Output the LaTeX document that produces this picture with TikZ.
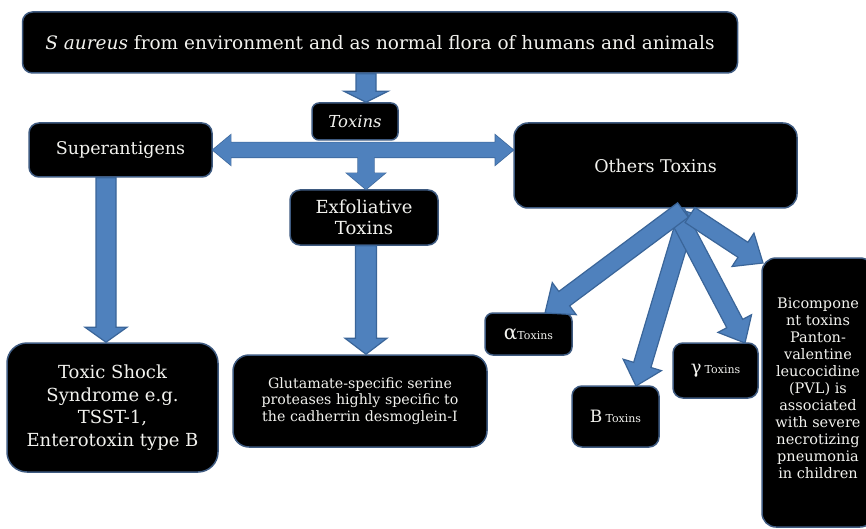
\documentclass[tikz,border=0pt]{standalone}
\usepackage{fontspec}
\setmainfont{DejaVu Serif}
\usetikzlibrary{calc}
\definecolor{arrowfill}{HTML}{4F81BD}
\definecolor{arrowline}{HTML}{3A6599}
\definecolor{boxline}{HTML}{3E5A80}
\definecolor{boxtext}{HTML}{F2F2EE}
\newcommand\blockarrow[6]{%
  \coordinate (ba-h) at ($(#3)!#6!(#2)$);
  \path[#1] ($(#2)!#4!90:(#3)$) -- ($(ba-h)!#4!-90:(#2)$) -- ($(ba-h)!#5!-90:(#2)$) -- (#3)
    -- ($(ba-h)!#5!90:(#2)$) -- ($(ba-h)!#4!90:(#2)$) -- ($(#2)!#4!-90:(#3)$) -- cycle;
}
\newcommand\dblarrow[6]{%
  \coordinate (da-a) at ($(#2)!#6!(#3)$);
  \coordinate (da-b) at ($(#3)!#6!(#2)$);
  \path[#1] (#2) -- ($(da-a)!#5!90:(#3)$) -- ($(da-a)!#4!90:(#3)$) -- ($(da-b)!#4!-90:(#2)$)
    -- ($(da-b)!#5!-90:(#2)$) -- (#3) -- ($(da-b)!#5!90:(#2)$) -- ($(da-b)!#4!90:(#2)$)
    -- ($(da-a)!#4!-90:(#3)$) -- ($(da-a)!#5!-90:(#3)$) -- cycle;
}
\tikzset{
  box/.style={draw=boxline, line width=1.5pt, fill=black, rounded corners=10pt,
    text=boxtext, align=center, inner sep=0pt},
  arrowout/.style={draw=arrowline, line width=1.4pt, line join=miter},
  arrowin/.style={fill=arrowfill},
  arrowboth/.style={fill=arrowfill, draw=arrowline, line width=1.2pt, line join=miter},
}
\begin{document}
\begin{tikzpicture}[x=1pt,y=-1pt]
\useasboundingbox[fill=white] (0,0) rectangle (866,529);
% nodes
\node[box, minimum width=715pt, minimum height=61pt, font=\fontsize{18.5}{22}\selectfont] (top) at (380,42.5)
  {\textit{S aureus} from environment and as normal flora of humans and animals};
\node[box, minimum width=86pt, minimum height=37pt, rounded corners=7pt, font=\fontsize{16.5}{20}\selectfont] (toxins) at (355,121.5)
  {\textit{Toxins}};
\node[box, minimum width=183pt, minimum height=54pt, font=\fontsize{17.5}{21}\selectfont] (super) at (120.5,150)
  {Superantigens};
\node[box, minimum width=283pt, minimum height=85pt, rounded corners=14pt, font=\fontsize{17.5}{21}\selectfont] (others) at (655.5,165.5)
  {Others Toxins};
\node[box, minimum width=148pt, minimum height=55pt, font=\fontsize{18}{21}\selectfont] (exfol) at (364,217.5)
  {Exfoliative\\Toxins};
\node[box, minimum width=211pt, minimum height=129pt, rounded corners=20pt, font=\fontsize{18}{22.5}\selectfont] (tss) at (112.5,407.5)
  {Toxic Shock\\Syndrome e.g.\\TSST-1,\\Enterotoxin type B};
\node[box, minimum width=254pt, minimum height=92pt, rounded corners=16pt, font=\fontsize{14.2}{16.8}\selectfont] (glut) at (360,401)
  {Glutamate-specific serine\\proteases highly specific to\\the cadherrin desmoglein-I};
\node[box, minimum width=87pt, minimum height=42pt, rounded corners=8pt] (alpha) at (528.5,334)
  {{\fontsize{20}{20}\selectfont α}{\fontsize{11}{11}\selectfont Toxins}};
\node[box, minimum width=87pt, minimum height=61pt, rounded corners=10pt] (beta) at (615.5,416.5)
  {{\fontsize{17}{17}\selectfont B} {\fontsize{11}{11}\selectfont Toxins}};
\node[box, minimum width=85pt, minimum height=55pt, rounded corners=10pt] (gamma) at (715.5,370.5)
  {{\fontsize{18}{18}\selectfont γ} {\fontsize{11}{11}\selectfont Toxins}};
\node[box, minimum width=112pt, minimum height=269pt, rounded corners=14pt] (bico) at (818,392.5) {};
\node[align=center, text=boxtext, inner sep=0pt, font=\fontsize{14.5}{17}\selectfont] (bicotext) at (818,388)
  {Bicompone\\nt toxins\\Panton-\\valentine\\leucocidine\\(PVL) is\\associated\\with severe\\necrotizing\\pneumonia\\in children};
% coordinates for connectors
\coordinate (hub) at (366,150);
\coordinate (lx) at (106,0);
\coordinate (fa) at (683,210);
\coordinate (fb) at (688,212);
\coordinate (fg) at (676,212);
\coordinate (fc) at (690,215);
\coordinate (ta) at (545,313);
\coordinate (tb) at (636,386);
\coordinate (tg) at (745,343);
\coordinate (tc) at (763,263);
% arrows
\blockarrow{arrowboth}{top.south -| hub}{toxins.north -| hub}{10pt}{22pt}{11pt}
\blockarrow{arrowout}{hub}{exfol.north -| hub}{8pt}{19pt}{16pt}
\dblarrow{arrowout}{super.east}{super.east -| others.west}{7.5pt}{15pt}{18pt}
\blockarrow{arrowin}{hub}{exfol.north -| hub}{8pt}{19pt}{16pt}
\dblarrow{arrowin}{super.east}{super.east -| others.west}{7.5pt}{15pt}{18pt}
\blockarrow{arrowboth}{super.south -| lx}{tss.north -| lx}{10pt}{21pt}{15pt}
\blockarrow{arrowboth}{exfol.south -| hub}{glut.north -| hub}{10.5pt}{21pt}{16pt}
\blockarrow{arrowboth}{fb}{tb}{9pt}{20pt}{22pt}
\blockarrow{arrowboth}{fg}{tg}{9pt}{19pt}{22pt}
\blockarrow{arrowboth}{fa}{ta}{9pt}{20pt}{24pt}
\blockarrow{arrowboth}{fc}{tc}{9pt}{20pt}{24pt}
\end{tikzpicture}
\end{document}
